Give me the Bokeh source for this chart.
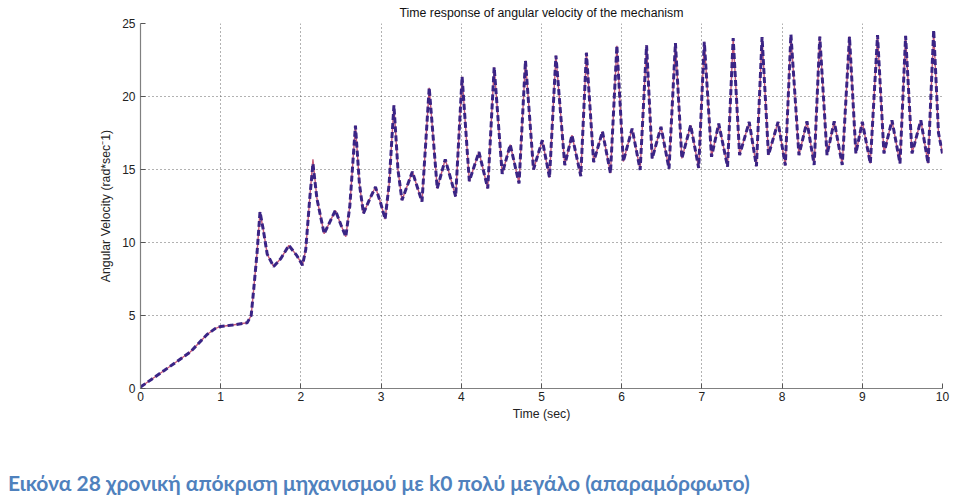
from bokeh.plotting import figure
from bokeh.models import FixedTicker, Range1d, Div
from bokeh.layouts import column
from bokeh.embed import file_html
from bokeh.resources import INLINE

# Time (sec) and angular velocity (rad/sec)
time_s = [0.00, 0.30, 0.62, 0.83, 0.93, 1.00, 1.15, 1.33, 1.38, 1.41, 1.455, 1.49,
          1.53, 1.58, 1.66, 1.75, 1.85, 1.95, 2.02, 2.06, 2.11, 2.15, 2.20, 2.29,
          2.36, 2.43, 2.50, 2.56, 2.61, 2.68, 2.73, 2.78, 2.86, 2.93, 3.00, 3.05,
          3.10, 3.16, 3.21, 3.26, 3.39, 3.51, 3.60, 3.70, 3.80, 3.93, 4.01, 4.10,
          4.22, 4.33, 4.41, 4.51, 4.61, 4.72, 4.80, 4.90, 5.01, 5.10, 5.18, 5.29,
          5.38, 5.49, 5.56, 5.65, 5.76, 5.86, 5.94, 6.02, 6.13, 6.23, 6.31, 6.38,
          6.49, 6.59, 6.67, 6.75, 6.86, 6.96, 7.03, 7.12, 7.21, 7.32, 7.39, 7.47,
          7.59, 7.68, 7.75, 7.83, 7.95, 8.04, 8.11, 8.21, 8.31, 8.40, 8.47, 8.56,
          8.65, 8.75, 8.84, 8.92, 9.00, 9.10, 9.19, 9.27, 9.37, 9.47, 9.54, 9.62,
          9.73, 9.82, 9.89, 9.95, 10.00]

omega_exact = [0.10, 1.25, 2.50, 3.70, 4.10, 4.25, 4.35, 4.50, 5.00, 6.70, 9.40, 12.10,
               10.90, 9.20, 8.35, 8.90, 9.80, 9.10, 8.45, 9.50, 13.00, 15.70, 13.00, 10.60,
               11.40, 12.20, 11.20, 10.40, 12.50, 18.00, 14.00, 12.00, 13.00, 13.80, 12.60, 11.60,
               14.00, 19.40, 15.00, 12.90, 14.85, 12.80, 20.60, 13.70, 15.70, 13.15, 21.35, 14.20,
               16.20, 13.70, 22.00, 14.70, 16.70, 14.05, 22.45, 15.00, 17.00, 14.45, 22.80, 15.30,
               17.35, 14.55, 23.00, 15.50, 17.60, 14.75, 23.48, 15.55, 17.80, 14.97, 23.50, 15.75,
               17.92, 15.05, 23.66, 15.76, 18.03, 15.10, 23.75, 15.87, 18.14, 15.19, 24.00, 15.99,
               18.26, 15.22, 24.07, 15.99, 18.26, 15.28, 24.20, 15.99, 18.30, 15.31, 24.10, 15.99,
               18.30, 15.31, 24.10, 16.10, 18.26, 15.42, 24.20, 16.10, 18.37, 15.42, 24.15, 16.10,
               18.37, 15.42, 24.40, 17.50, 16.10]

omega_model = [0.10, 1.25, 2.50, 3.70, 4.10, 4.25, 4.35, 4.50, 5.00, 6.70, 9.40, 12.10,
               10.90, 9.20, 8.35, 8.90, 9.80, 9.10, 8.45, 9.50, 13.00, 15.40, 13.00, 10.60,
               11.40, 12.20, 11.20, 10.40, 12.50, 18.00, 14.00, 12.00, 13.00, 13.80, 12.60, 11.60,
               14.00, 19.40, 15.00, 12.90, 14.85, 12.80, 20.60, 13.70, 15.70, 13.15, 21.35, 14.20,
               16.20, 13.70, 22.00, 14.70, 16.70, 14.05, 22.45, 15.00, 17.00, 14.45, 22.80, 15.30,
               17.35, 14.55, 23.00, 15.50, 17.60, 14.75, 23.48, 15.55, 17.80, 14.97, 23.50, 15.75,
               17.92, 15.05, 23.66, 15.76, 18.03, 15.10, 23.75, 15.87, 18.14, 15.19, 24.00, 15.99,
               18.26, 15.22, 24.07, 15.99, 18.26, 15.28, 24.25, 15.99, 18.30, 15.31, 24.10, 15.99,
               18.30, 15.31, 24.10, 16.10, 18.26, 15.42, 24.20, 16.10, 18.37, 15.42, 24.15, 16.10,
               18.37, 15.42, 24.55, 17.50, 16.10]

x_ticks = [0, 1, 2, 3, 4, 5, 6, 7, 8, 9, 10]
y_ticks = [0, 5, 10, 15, 20, 25]

title_text = "Time response of angular velocity of the mechanism"
x_label = "Time (sec)"
y_label = "Angular Velocity (rad*sec\u207b1)"
caption = "Εικόνα 28 χρονική απόκριση μηχανισμού με k0 πολύ μεγάλο (απαραμόρφωτο)"

p = figure(width=959, height=440, output_backend="svg", toolbar_location=None,
           x_range=Range1d(0, 10), y_range=Range1d(0, 25),
           min_border_left=140, min_border_right=17, min_border_top=21,
           min_border_bottom=52, title=title_text)

p.title.align = "center"
p.title.text_font = "Liberation Sans"
p.title.text_font_size = "12.3px"
p.title.text_font_style = "normal"
p.title.text_color = "#111111"
p.title.standoff = 7

p.outline_line_color = None
p.background_fill_color = "white"
p.border_fill_color = "white"

for ax, ticks in ((p.xaxis[0], x_ticks), (p.yaxis[0], y_ticks)):
    ax.ticker = FixedTicker(ticks=ticks)
    ax.axis_line_color = "#808080"
    ax.axis_line_width = 1.2
    ax.major_tick_line_color = "#555555"
    ax.major_tick_in = 5
    ax.major_tick_out = 0
    ax.minor_tick_line_color = None
    ax.major_label_text_font = "Liberation Sans"
    ax.major_label_text_font_size = "12px"
    ax.major_label_text_color = "#222222"
    ax.axis_label_text_font = "Liberation Sans"
    ax.axis_label_text_font_size = "12.3px"
    ax.axis_label_text_font_style = "normal"
    ax.axis_label_text_color = "#222222"

p.xaxis.axis_label = x_label
p.yaxis.axis_label = y_label
p.xaxis.major_label_standoff = 3
p.xaxis.axis_label_standoff = 3
p.yaxis.major_label_standoff = 5
p.yaxis.axis_label_standoff = 6

for g in (p.xgrid[0], p.ygrid[0]):
    g.grid_line_color = "#555555"
    g.grid_line_dash = "1 3"
    g.grid_line_width = 1
    g.grid_line_alpha = 0.9

p.line(time_s, omega_exact, line_color="#b83058", line_width=1.4, line_alpha=0.8)
p.line(time_s, omega_model, line_color="#3a2485", line_width=3, line_dash="6 3")

cap = Div(text=caption, width=959, height=59,
          styles={"font-family": "Lato", "font-weight": "bold", "font-size": "21px",
                  "color": "#4f81bd", "padding-top": "27px", "padding-left": "3px",
                  "line-height": "1", "white-space": "nowrap"})

layout = column(p, cap, spacing=0)
open("out.html", "w").write(file_html(layout, INLINE))
